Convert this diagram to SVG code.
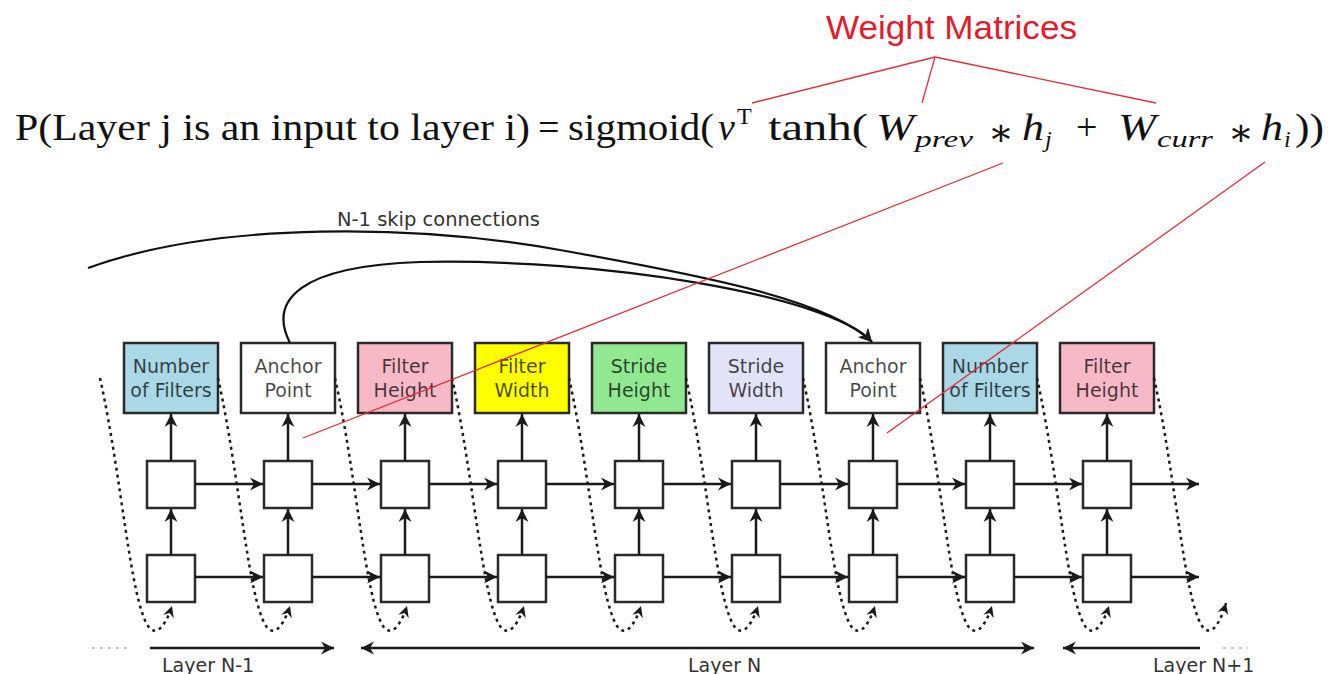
<svg xmlns="http://www.w3.org/2000/svg" width="1328" height="674" viewBox="0 0 1328 674">
  <defs>
    <marker id="arrow" markerUnits="userSpaceOnUse" markerWidth="16" markerHeight="16" viewBox="-14 -8 16 16" refX="0" refY="0" orient="auto-start-reverse">
      <path d="M0,0 L-13,-6.5 L-9,0 L-13,6.5 Z" fill="#1a1a1a"/>
    </marker>
    <marker id="arrowSmall" markerUnits="userSpaceOnUse" markerWidth="14" markerHeight="14" viewBox="-12 -7 14 14" refX="0" refY="0" orient="auto">
      <path d="M0,0 L-11,-5.5 L-7.5,0 L-11,5.5 Z" fill="#1a1a1a"/>
    </marker>
  </defs>
  <style>
    .box { stroke: #2a2a2a; stroke-width: 2.5; }
    .cell { fill: #ffffff; stroke: #2a2a2a; stroke-width: 2.5; }
    .lbl { font-family: "DejaVu Sans", sans-serif; font-size: 19px; fill: #000; fill-opacity: 0.72; text-anchor: middle; }
    .cap { font-family: "DejaVu Sans", sans-serif; font-size: 19px; fill: #333; }
    .edge { stroke: #1a1a1a; stroke-width: 2.5; fill: none; }
    .skip { stroke: #111; stroke-width: 2.2; fill: none; }
    .dots { stroke: #1a1a1a; stroke-width: 2.5; fill: none; stroke-dasharray: 3 4; }
    .ell { stroke: #b0b0b0; stroke-width: 1.5; fill: none; stroke-dasharray: 3 5; }
    .red { stroke: #e0303c; stroke-width: 1.3; fill: none; }
    .math { font-family: "Liberation Serif", "DejaVu Serif", serif; font-size: 38px; fill: #111; }
    .it { font-style: italic; }
    .sub { font-size: 24px; }
  </style>

  <rect width="1328" height="674" fill="#ffffff"/>

  <!-- annotation title -->
  <g id="weight-matrices">
    <text x="826" y="39" textLength="251" lengthAdjust="spacingAndGlyphs" style="font-family:'Liberation Sans',Arial,sans-serif;font-size:33px;fill:#e31b2c">Weight Matrices</text>
  </g>

  <!-- probability formula -->
  <g id="formula" class="math">
    <text x="15" y="140" textLength="515" lengthAdjust="spacingAndGlyphs">P(Layer j is an input to layer i)</text>
    <text x="538" y="140">=</text>
    <text x="568" y="140" textLength="146" lengthAdjust="spacingAndGlyphs">sigmoid(</text>
    <text x="718" y="140" class="it">v</text>
    <text x="737" y="124" class="sub">T</text>
    <text x="768" y="140" textLength="100" lengthAdjust="spacingAndGlyphs">tanh(</text>
    <text x="876" y="140" class="it" textLength="38" lengthAdjust="spacingAndGlyphs">W</text>
    <text x="915" y="147" class="it sub" textLength="58" lengthAdjust="spacingAndGlyphs">prev</text>
    <text x="988" y="145">∗</text>
    <text x="1022" y="140" class="it" textLength="22" lengthAdjust="spacingAndGlyphs">h</text>
    <text x="1045" y="147" class="it sub">j</text>
    <text x="1076" y="140">+</text>
    <text x="1118" y="140" class="it" textLength="38" lengthAdjust="spacingAndGlyphs">W</text>
    <text x="1157" y="147" class="it sub" textLength="56" lengthAdjust="spacingAndGlyphs">curr</text>
    <text x="1228" y="145">∗</text>
    <text x="1261" y="140" class="it" textLength="22" lengthAdjust="spacingAndGlyphs">h</text>
    <text x="1284" y="147" class="it sub">i</text>
    <text x="1295" y="140" textLength="29" lengthAdjust="spacingAndGlyphs">))</text>
  </g>

  <!-- controller output boxes -->
  <g id="n0"><rect class="box" x="124" y="343" width="94" height="70" fill="#abd8e6"/><text class="lbl" x="171" y="373">Number</text><text class="lbl" x="171" y="397">of Filters</text></g>
  <g id="n1"><rect class="box" x="241" y="343" width="94" height="70" fill="#ffffff"/><text class="lbl" x="288" y="373">Anchor</text><text class="lbl" x="288" y="397">Point</text></g>
  <g id="n2"><rect class="box" x="358" y="343" width="94" height="70" fill="#f7b9c6"/><text class="lbl" x="405" y="373">Filter</text><text class="lbl" x="405" y="397">Height</text></g>
  <g id="n3"><rect class="box" x="475" y="343" width="94" height="70" fill="#ffff00"/><text class="lbl" x="522" y="373">Filter</text><text class="lbl" x="522" y="397">Width</text></g>
  <g id="n4"><rect class="box" x="592" y="343" width="94" height="70" fill="#90e890"/><text class="lbl" x="639" y="373">Stride</text><text class="lbl" x="639" y="397">Height</text></g>
  <g id="n5"><rect class="box" x="709" y="343" width="94" height="70" fill="#e2e2f8"/><text class="lbl" x="756" y="373">Stride</text><text class="lbl" x="756" y="397">Width</text></g>
  <g id="n6"><rect class="box" x="826" y="343" width="94" height="70" fill="#ffffff"/><text class="lbl" x="873" y="373">Anchor</text><text class="lbl" x="873" y="397">Point</text></g>
  <g id="n7"><rect class="box" x="943" y="343" width="94" height="70" fill="#abd8e6"/><text class="lbl" x="990" y="373">Number</text><text class="lbl" x="990" y="397">of Filters</text></g>
  <g id="n8"><rect class="box" x="1060" y="343" width="94" height="70" fill="#f7b9c6"/><text class="lbl" x="1107" y="373">Filter</text><text class="lbl" x="1107" y="397">Height</text></g>

  <!-- recurrent cells: upper row -->
  <g id="u0"><rect class="cell" x="147" y="461" width="48" height="47"/></g>
  <g id="u1"><rect class="cell" x="264" y="461" width="48" height="47"/></g>
  <g id="u2"><rect class="cell" x="381" y="461" width="48" height="47"/></g>
  <g id="u3"><rect class="cell" x="498" y="461" width="48" height="47"/></g>
  <g id="u4"><rect class="cell" x="615" y="461" width="48" height="47"/></g>
  <g id="u5"><rect class="cell" x="732" y="461" width="48" height="47"/></g>
  <g id="u6"><rect class="cell" x="849" y="461" width="48" height="47"/></g>
  <g id="u7"><rect class="cell" x="966" y="461" width="48" height="47"/></g>
  <g id="u8"><rect class="cell" x="1083" y="461" width="48" height="47"/></g>

  <!-- recurrent cells: lower row -->
  <g id="l0"><rect class="cell" x="147" y="555" width="48" height="47"/></g>
  <g id="l1"><rect class="cell" x="264" y="555" width="48" height="47"/></g>
  <g id="l2"><rect class="cell" x="381" y="555" width="48" height="47"/></g>
  <g id="l3"><rect class="cell" x="498" y="555" width="48" height="47"/></g>
  <g id="l4"><rect class="cell" x="615" y="555" width="48" height="47"/></g>
  <g id="l5"><rect class="cell" x="732" y="555" width="48" height="47"/></g>
  <g id="l6"><rect class="cell" x="849" y="555" width="48" height="47"/></g>
  <g id="l7"><rect class="cell" x="966" y="555" width="48" height="47"/></g>
  <g id="l8"><rect class="cell" x="1083" y="555" width="48" height="47"/></g>

  <g id="connectors">
    <!-- lower cell to upper cell, upper cell to output -->
    <g class="edge" marker-end="url(#arrow)">
      <path d="M171,555 V509"/><path d="M171,461 V414"/>
      <path d="M288,555 V509"/><path d="M288,461 V414"/>
      <path d="M405,555 V509"/><path d="M405,461 V414"/>
      <path d="M522,555 V509"/><path d="M522,461 V414"/>
      <path d="M639,555 V509"/><path d="M639,461 V414"/>
      <path d="M756,555 V509"/><path d="M756,461 V414"/>
      <path d="M873,555 V509"/><path d="M873,461 V414"/>
      <path d="M990,555 V509"/><path d="M990,461 V414"/>
      <path d="M1107,555 V509"/><path d="M1107,461 V414"/>
    </g>
    <!-- recurrent state, step to step -->
    <g class="edge" marker-end="url(#arrow)">
      <path d="M195,484 H263"/><path d="M195,577 H263"/>
      <path d="M312,484 H380"/><path d="M312,577 H380"/>
      <path d="M429,484 H497"/><path d="M429,577 H497"/>
      <path d="M546,484 H614"/><path d="M546,577 H614"/>
      <path d="M663,484 H731"/><path d="M663,577 H731"/>
      <path d="M780,484 H848"/><path d="M780,577 H848"/>
      <path d="M897,484 H965"/><path d="M897,577 H965"/>
      <path d="M1014,484 H1082"/><path d="M1014,577 H1082"/>
      <path d="M1131,484 H1199"/><path d="M1131,577 H1199"/>
    </g>
    <!-- previous output fed back as next input -->
    <g class="dots" marker-end="url(#arrowSmall)">
      <path d="M100,378 C122,478 130,598 148,626 C155,636 164,630 172,606"/>
      <path d="M218,378 C240,478 248,598 266,626 C273,636 282,630 290,606"/>
      <path d="M335,378 C357,478 365,598 383,626 C390,636 399,630 407,606"/>
      <path d="M452,378 C474,478 482,598 500,626 C507,636 516,630 524,606"/>
      <path d="M569,378 C591,478 599,598 617,626 C624,636 633,630 641,606"/>
      <path d="M686,378 C708,478 716,598 734,626 C741,636 750,630 758,606"/>
      <path d="M803,378 C825,478 833,598 851,626 C858,636 867,630 875,606"/>
      <path d="M920,378 C942,478 950,598 968,626 C975,636 984,630 992,606"/>
      <path d="M1037,378 C1059,478 1067,598 1085,626 C1092,636 1101,630 1109,606"/>
      <path d="M1154,378 C1176,478 1184,598 1202,626 C1209,636 1218,630 1226,603"/>
    </g>
    <!-- skip connections into the anchor point -->
    <g class="skip" marker-end="url(#arrow)">
      <path d="M88,268 C220,220 420,225 560,250 S830,300 872,342"/>
      <path d="M290,343 C268,300 300,266 420,262 C600,258 830,295 872,342"/>
    </g>
    <!-- layer spans -->
    <g class="edge">
      <path d="M150,648 H334" marker-end="url(#arrow)"/>
      <path d="M361,648 H1034" marker-start="url(#arrow)" marker-end="url(#arrow)"/>
      <path d="M1063,648 H1200" marker-start="url(#arrow)"/>
    </g>
    <path class="ell" d="M92,648 H127"/>
    <path class="ell" d="M1223,648 H1248"/>
  </g>

  <!-- captions -->
  <text class="cap" x="337" y="226" textLength="203" lengthAdjust="spacingAndGlyphs">N-1 skip connections</text>
  <text class="cap" x="162" y="672">Layer N-1</text>
  <text class="cap" x="688" y="672">Layer N</text>
  <text class="cap" x="1153" y="672">Layer N+1</text>

  <!-- annotation pointers -->
  <g id="annotation-lines" class="red">
    <path d="M935,57 L752,103"/>
    <path d="M935,57 L922,103"/>
    <path d="M935,57 L1156,103"/>
    <path d="M1003,163 L303,438"/>
    <path d="M1265,162 L887,433"/>
  </g>
</svg>
